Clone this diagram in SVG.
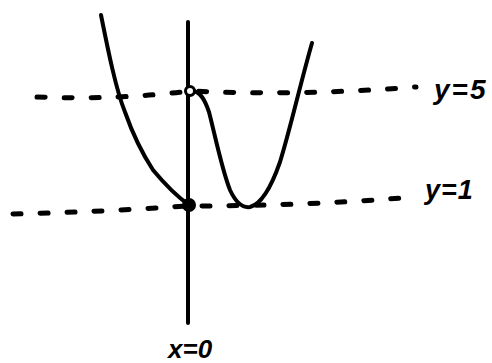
<svg xmlns="http://www.w3.org/2000/svg" width="492" height="363" viewBox="0 0 492 363">
<style>
.ink{fill:none;stroke:#000;stroke-width:4;stroke-linecap:round;stroke-linejoin:round}
.dash{fill:none;stroke:#000;stroke-width:5;stroke-linecap:round;stroke-dasharray:8 19}
.lbl{font-family:"Liberation Sans",Arial,sans-serif;font-weight:bold;font-style:italic;fill:#000}
</style>
<rect width="492" height="363" fill="#fff"/>
<g id="guides">
<path class="dash" d="M37,97 Q120,100 190,91 Q300,96 416,87"/>
<path class="dash" d="M13,214 Q100,212 185,206 Q300,206 402,198"/>
</g>
<g id="axis">
<path class="ink" d="M188,22 L188,323"/>
</g>
<g id="curves">
<path class="ink" d="M101,15 C108,50 116,90 125,112 C132,132 140,150 153,170 C163,182 175,195 189,205"/>
<path class="ink" d="M191,91 C200,90 205,100 209,112 C215,135 222,170 230,190 C236,203 243,208 250,207 C262,204 272,185 280,162 C290,130 300,85 312,43"/>
</g>
<g id="points">
<circle cx="190" cy="91" r="4.5" fill="#fff" stroke="#000" stroke-width="3"/>
<circle cx="189" cy="205" r="7" fill="#000"/>
</g>
<g id="labels">
<text class="lbl" x="434" y="99" font-size="28" letter-spacing="2">y=5</text>
<text class="lbl" x="425" y="199" font-size="27" letter-spacing="1">y=1</text>
<text class="lbl" x="168" y="358" font-size="26">x=0</text>
</g>
</svg>
